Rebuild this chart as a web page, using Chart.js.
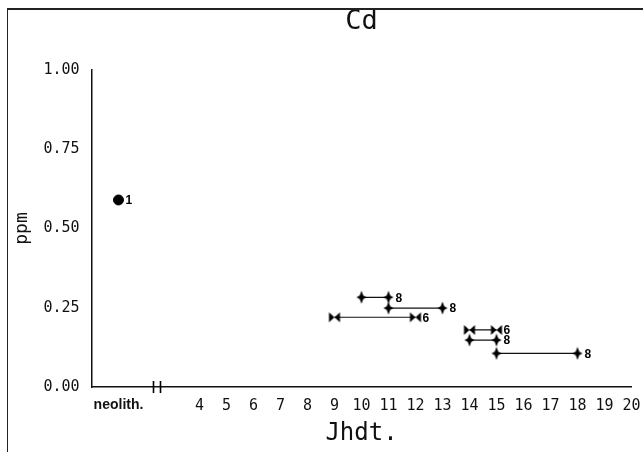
<!DOCTYPE html>
<html>
<head>
<meta charset="utf-8">
<title>Cd</title>
<script src="https://cdn.jsdelivr.net/npm/chart.js@4.4.0/dist/chart.umd.min.js"></script>
<style>
  html, body { margin: 0; padding: 0; background: #fff; }
  #wrap { position: relative; width: 643px; height: 452px; overflow: hidden; }
  #frame { position: absolute; left: 7px; top: 8px; right: -4px; bottom: -4px;
           border-left: 1px solid #222; border-top: 2px solid #222; pointer-events: none; }
</style>
</head>
<body>
<div id="wrap">
  <canvas id="chart" width="643" height="452"></canvas>
  <div id="frame"></div>
</div>
<script>
// neolithic sample, put on a pseudo-century left of the axis break
const neolithX = 1
const neolithPpm = 0.59
const neolithN = 1

// dated samples: century range, ppm and number of samples
const rangeFrom = [10, 11, 9, 14, 14, 15]
const rangeTo = [11, 13, 12, 15, 15, 18]
const rangePpm = [0.283, 0.249, 0.22, 0.18, 0.148, 0.106]
const rangeN = [8, 8, 6, 6, 8, 8]
const rangeMarker = ['star', 'star', 'bowtie', 'bowtie', 'star', 'star']

const xTicks = [1, 4, 5, 6, 7, 8, 9, 10, 11, 12, 13, 14, 15, 16, 17, 18, 19, 20]
const yTicks = [0, 0.25, 0.5, 0.75, 1]

const INK = '#111'
const MONO = '"DejaVu Sans Mono", monospace'

function makeMarker(kind) {
  let c = document.createElement('canvas')
  c.width = 14
  c.height = 14
  let g = c.getContext('2d')
  g.fillStyle = '#000'
  g.beginPath()
  if (kind === 'star') {
    g.moveTo(7, 0.5)
    g.lineTo(8.8, 5.2)
    g.lineTo(12, 7)
    g.lineTo(8.8, 8.8)
    g.lineTo(7, 13.5)
    g.lineTo(5.2, 8.8)
    g.lineTo(2, 7)
    g.lineTo(5.2, 5.2)
    g.closePath()
  } else {
    g.moveTo(1.5, 2)
    g.lineTo(7, 7)
    g.lineTo(1.5, 12)
    g.closePath()
    g.moveTo(12.5, 2)
    g.lineTo(7, 7)
    g.lineTo(12.5, 12)
    g.closePath()
  }
  g.fill()
  return c
}

const markers = { star: makeMarker('star'), bowtie: makeMarker('bowtie') }

let datasets = rangeFrom.map((from, i) => ({
  data: [{ x: from, y: rangePpm[i] }, { x: rangeTo[i], y: rangePpm[i] }],
  showLine: true,
  borderColor: INK,
  borderWidth: 1.2,
  pointStyle: markers[rangeMarker[i]],
  pointRadius: 7,
  n: rangeN[i]
}))
datasets.unshift({
  data: [{ x: neolithX, y: neolithPpm }],
  pointStyle: 'circle',
  pointRadius: 5,
  backgroundColor: '#000',
  borderColor: '#000',
  n: neolithN
})

// sample counts next to the right end of each mark, and the axis break
const extras = {
  id: 'extras',
  afterDatasetsDraw(chart) {
    let ctx = chart.ctx
    ctx.save()
    ctx.font = 'bold 12px "Liberation Sans"'
    ctx.fillStyle = '#000'
    ctx.textBaseline = 'middle'
    chart.data.datasets.forEach((ds, i) => {
      let pts = chart.getDatasetMeta(i).data
      let last = pts[pts.length - 1]
      ctx.fillText(ds.n, last.x + 7, last.y + 1)
    })
    let xs = chart.scales.x
    let yb = chart.chartArea.bottom
    ctx.strokeStyle = '#000'
    ctx.lineWidth = 1.6
    for (let b of [2.29, 2.54]) {
      let px = Math.round(xs.getPixelForValue(b)) + 0.5
      ctx.beginPath()
      ctx.moveTo(px, yb - 6)
      ctx.lineTo(px, yb + 6)
      ctx.stroke()
    }
    ctx.restore()
  }
}

new Chart(document.getElementById('chart'), {
  type: 'scatter',
  data: { datasets },
  plugins: [extras],
  options: {
    responsive: false,
    animation: false,
    layout: { padding: { left: 0, right: 11.5, top: 0, bottom: 0 } },
    plugins: { legend: { display: false }, tooltip: { enabled: false } },
    scales: {
      x: {
        type: 'linear',
        min: 0,
        max: 20,
        afterBuildTicks: s => { s.ticks = xTicks.map(v => ({ value: v })) },
        afterFit: s => { s.height = 65; s.paddingRight = 0; s.paddingLeft = 0 },
        grid: { display: false, drawTicks: false },
        border: { color: INK, width: 1.5 },
        ticks: {
          autoSkip: false,
          maxRotation: 0,
          padding: 10,
          color: INK,
          font: c => (c.tick && c.tick.value === neolithX)
            ? { family: '"Liberation Sans"', size: 14, weight: 'bold' }
            : { family: MONO, size: 15 },
          callback: v => v === neolithX ? 'neolith.' : String(v)
        },
        title: {
          display: true,
          text: 'Jhdt.',
          color: INK,
          font: { family: MONO, size: 24 },
          padding: { top: 0, bottom: 4 }
        }
      },
      xTop: {
        type: 'linear',
        position: 'top',
        min: 0,
        max: 20,
        afterFit: s => { s.height = 70; s.paddingRight = 0; s.paddingLeft = 0 },
        grid: { display: false, drawTicks: false },
        border: { display: false },
        ticks: { display: false },
        title: {
          display: true,
          text: 'Cd',
          color: INK,
          font: { family: MONO, size: 27 },
          padding: { top: 6, bottom: 0 }
        }
      },
      y: {
        min: 0,
        max: 1,
        afterBuildTicks: s => { s.ticks = yTicks.map(v => ({ value: v })) },
        afterFit: s => { s.width = 91.5 },
        grid: { display: false, drawTicks: false },
        border: { color: INK, width: 1.5 },
        ticks: {
          padding: 12,
          color: INK,
          font: { family: MONO, size: 15 },
          callback: v => v.toFixed(2)
        },
        title: {
          display: true,
          text: 'ppm',
          color: INK,
          font: { family: MONO, size: 18 },
          padding: { top: 12, bottom: 0 }
        }
      }
    }
  }
})
</script>
</body>
</html>
